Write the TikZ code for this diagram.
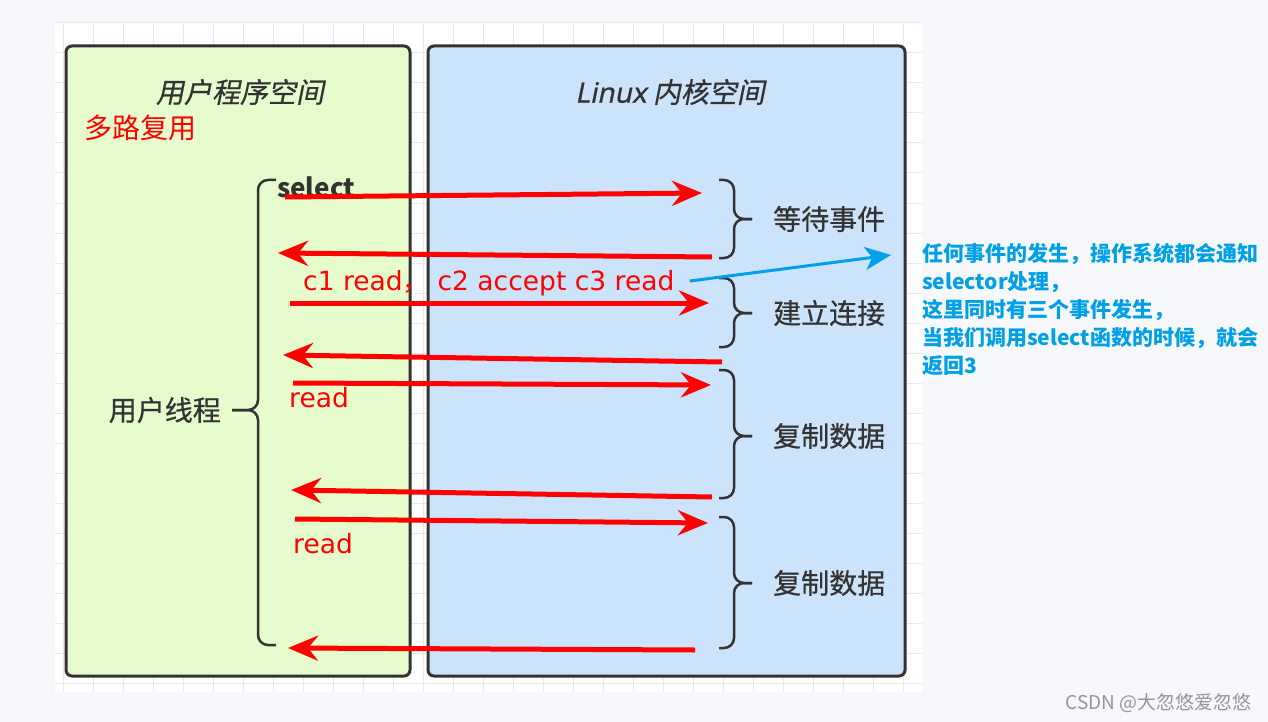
\documentclass[tikz,border=0pt]{standalone}
\usepackage{fontspec}
\setmainfont{Noto Sans CJK SC}
\newfontfamily\cjkit[FakeSlant=0.2,FakeBold=0.6]{Noto Sans CJK SC}
\newfontfamily\cjkmed[FakeBold=0.6]{Noto Sans CJK SC}
\newfontfamily\lat{DejaVu Sans}
\newfontfamily\latit[FakeSlant=0.2,FakeBold=0.6]{Noto Sans}
\usetikzlibrary{arrows.meta}
\definecolor{bgc}{RGB}{247,248,251}
\definecolor{gridc}{RGB}{232,232,232}
\definecolor{lgreen}{RGB}{230,252,205}
\definecolor{lblue}{RGB}{204,228,251}
\definecolor{dark}{RGB}{51,51,51}
\definecolor{cblue}{RGB}{0,160,233}
\definecolor{wm}{RGB}{150,150,150}
\begin{document}
\begin{tikzpicture}[x=1pt,y=-1pt,
  box/.style={draw=dark, line width=3pt, rounded corners=6pt},
  redarrow/.style={draw=red, line width=5pt, -{Stealth[length=30pt,width=25pt,inset=10pt]}},
  bluearrow/.style={draw=cblue, line width=3pt, -{Stealth[length=26pt,width=23pt,inset=7pt]}},
  bracket/.style={draw=dark, line width=2.5pt, rounded corners=10pt},
  lbl/.style={text=dark, font=\cjkmed\fontsize{28}{32}\selectfont, inner sep=0pt},
  ttl/.style={text=dark, font=\cjkit\fontsize{28}{32}\selectfont, inner sep=0pt},
  redlbl/.style={text=red, font=\lat\fontsize{26.5}{30}\selectfont, inner sep=0pt},
]
\useasboundingbox (0,0) rectangle (1268,722);
\fill[bgc] (0,0) rectangle (1268,722);
% grid panel
\fill[white] (55,22) rectangle (922,692);
\foreach \x in {63,93,...,903} \draw[gridc, line width=1pt] (\x,22) -- (\x,692);
\foreach \y in {23,53,...,683} \draw[gridc, line width=1pt] (55,\y) -- (922,\y);
% boxes
\draw[box, fill=lgreen] (66,46) rectangle (410,676);
\draw[box, fill=lblue] (428,46) rectangle (905,676);
% titles
\node[ttl] (t1) at (240,92) {用户程序空间};
\node[ttl] (t2) at (670,92) {{\latit Linux} 内核空间};
\node[text=red, font=\fontsize{28}{32}\selectfont, inner sep=0pt, anchor=west] (mux) at (84,128) {多路复用};
\node[text=dark, font=\bfseries\fontsize{26}{30}\selectfont, inner sep=0pt, anchor=west] (sel) at (277,187) {select};
\node[lbl, anchor=east] (ut) at (221,410) {用户线程};
% left bracket
\draw[bracket] (276,180) -- (258,180) -- (258,410) -- (232,410);
\draw[bracket] (276,645) -- (258,645) -- (258,410) -- (232,410);
% right brackets
\foreach \a/\m/\b in {180/219/258, 278/313/347, 370/436/498, 517/583/648} {
  \draw[bracket] (719,\a) -- (734,\a) -- (734,\m) -- (752,\m);
  \draw[bracket] (719,\b) -- (734,\b) -- (734,\m) -- (752,\m);
}
\node[lbl, anchor=west] (e1) at (773,219) {等待事件};
\node[lbl, anchor=west] (e2) at (773,313) {建立连接};
\node[lbl, anchor=west] (e3) at (773,436) {复制数据};
\node[lbl, anchor=west] (e4) at (773,583) {复制数据};
% red labels
\node[redlbl, anchor=base west] (ev) at (303,290) {c1 read{\rmfamily ，}\ c2 accept c3 read};
\node[redlbl, anchor=base west] (r1) at (289,407) {read};
\node[redlbl, anchor=base west] (r2) at (293,553) {read};
% arrow coordinates
\coordinate (a1s) at (285,197); \coordinate (a1e) at (702,193);
\coordinate (a2s) at (712,257); \coordinate (a2e) at (278,253);
\coordinate (a3s) at (290,303); \coordinate (a3e) at (709,303);
\coordinate (a4s) at (722,362); \coordinate (a4e) at (283,355);
\coordinate (a5s) at (293,383); \coordinate (a5e) at (711,385);
\coordinate (a6s) at (712,497); \coordinate (a6e) at (291,490);
\coordinate (a7s) at (295,519); \coordinate (a7e) at (708,523);
\coordinate (a8s) at (695,650); \coordinate (a8e) at (288,648);
\foreach \i in {1,...,8} \draw[redarrow] (a\i s) -- (a\i e);
% note
\node[text=cblue, font=\bfseries\fontsize{21}{28}\selectfont, align=left, anchor=north west, inner sep=0pt] (note) at (922,243)
  {任何事件的发生，操作系统都会通知\\selector处理，\\这里同时有三个事件发生，\\当我们调用select函数的时候，就会\\返回3};
\coordinate (bs) at (690,281); \coordinate (be) at (891,255);
\draw[bluearrow] (bs) -- (be);
% watermark
\node[text=wm, font=\fontsize{19}{22}\selectfont, anchor=east, inner sep=0pt] (wmk) at (1252,703) {CSDN @大忽悠爱忽悠};
\end{tikzpicture}
\end{document}
